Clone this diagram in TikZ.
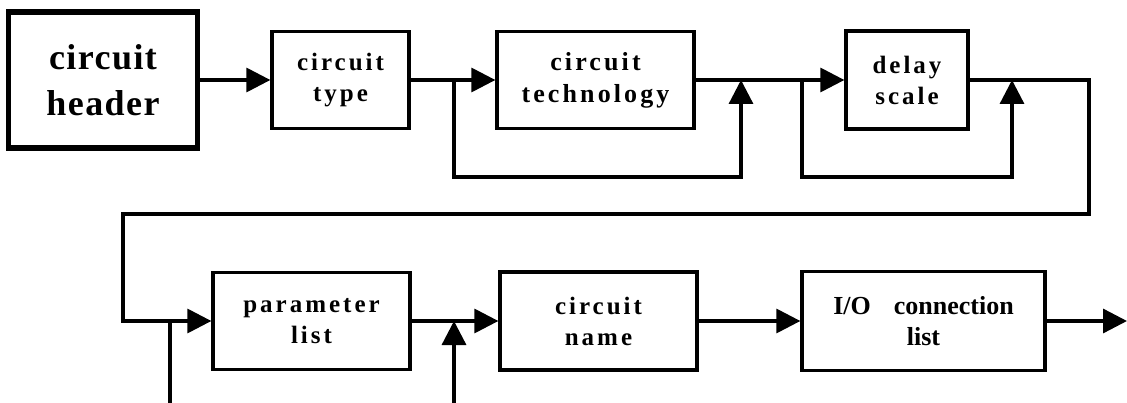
\documentclass[tikz,border=0pt]{standalone}
\usepackage{fontspec}
\setmainfont{Liberation Serif}
\newfontfamily\widefont[LetterSpace=12]{Liberation Serif}
\newfontfamily\hdrfont[LetterSpace=4]{Liberation Serif}
\usetikzlibrary{arrows.meta}

\begin{document}
\begin{tikzpicture}[x=1pt,y=-1pt,
    box/.style={draw,line width=3.3pt,align=center,inner sep=0pt,minimum height=97pt,
      font=\widefont\bfseries\fontsize{25pt}{31pt}\selectfont},
    wire/.style={line width=3.3pt},
    flow/.style={line width=3.3pt,-{Triangle[length=24pt,width=24pt]}}]
    \useasboundingbox (0,0) rectangle (1127,403);

    \node[box,line width=5.5pt,minimum width=189pt,minimum height=136pt,
      font=\hdrfont\bfseries\fontsize{36pt}{46pt}\selectfont] (hdr) at (103,80) {circuit\\header};
    \node[box,minimum width=137pt] (typ) at (340.5,80) {circuit\\type};
    \node[box,minimum width=197pt,font=\widefont\bfseries\fontsize{26pt}{32pt}\selectfont] (tech) at (595.5,80) {circuit\\technology};
    \node[box,minimum width=122pt,minimum height=98pt] (dly) at (907,80) {delay\\scale};

    \node[box,minimum width=197pt] (par) at (311.5,321) {parameter\\list};
    \node[box,minimum width=197pt,minimum height=98pt] (nam) at (598.5,321) {circuit\\name};
    \node[box,minimum width=243pt,minimum height=99pt,font=\bfseries\fontsize{26pt}{31pt}\selectfont] (io) at (923.5,321)
      {I/O\hspace{23pt}connection\\list};

    \coordinate (a1) at (454,80);
    \coordinate (a2) at (741,80);
    \coordinate (b1) at (802,80);
    \coordinate (b2) at (1012,80);
    \coordinate (c1) at (1089,80);
    \coordinate (c2) at (123,321);
    \coordinate (c3) at (170,321);
    \coordinate (c4) at (170,403);
    \coordinate (d1) at (454,321);
    \coordinate (d2) at (454,403);
    \coordinate (e) at (1127,321);

    \draw[flow] (hdr) -- (typ);
    \draw[flow] (typ) -- (tech);
    \draw[flow] (a1) -- ++(0,97) -| (a2);
    \draw[flow] (tech) -- (dly);
    \draw[flow] (b1) -- ++(0,97) -| (b2);
    \draw[flow] (dly.east) -- (c1) -- ++(0,134) -| (c2) -- (par.west);
    \draw[wire] (c3) -- (c4);
    \draw[flow] (d2) -- (d1);
    \draw[flow] (par) -- (nam);
    \draw[flow] (nam) -- (io);
    \draw[flow] (io) -- (e);
\end{tikzpicture}
\end{document}
